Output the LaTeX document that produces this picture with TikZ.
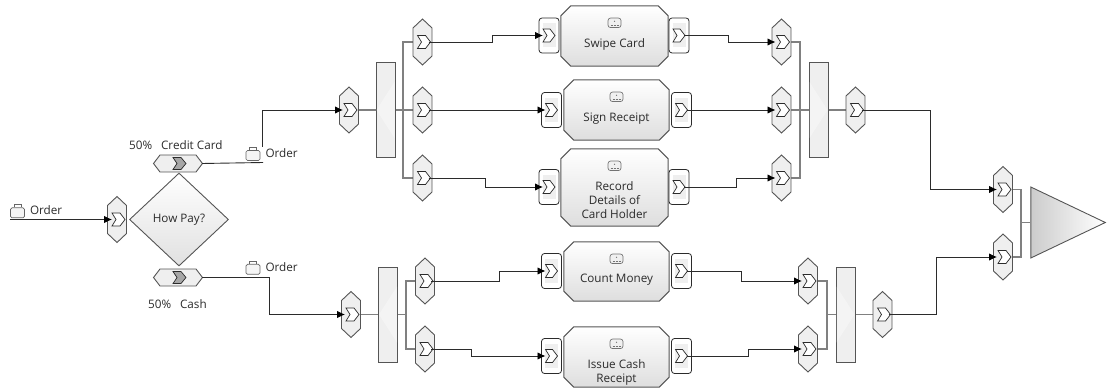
\documentclass[tikz,border=0pt]{standalone}
\usepackage{fontspec}
\setmainfont{Open Sans}
\usetikzlibrary{shapes.geometric,arrows.meta}
\definecolor{ink}{HTML}{2B2B2B}
\definecolor{edge}{HTML}{555555}
\definecolor{pane}{HTML}{EFEFEF}
\tikzstyle{lbl} = [inner sep=0pt, text=ink, font=\fontsize{11.7}{14}\selectfont, align=center]
\tikzstyle{flow} = [draw=ink, line width=0.9pt, -{Latex[black,length=8pt,width=7.5pt]}]
\tikzstyle{plain} = [draw=ink, line width=0.9pt]
\tikzstyle{link} = [draw=black!50, line width=1.6pt]
\tikzstyle{hexline} = [draw=edge, line width=0.9pt, fill=pane]
\tikzstyle{chevron} = [draw=ink, line width=0.7pt, fill=white]
\tikzstyle{anchorbox} = [inner sep=0pt, minimum width=19pt, minimum height=46pt]
\tikzstyle{choice} = [diamond, draw=edge, line width=0.9pt, top color=white, bottom color=black!12, inner sep=0pt, minimum width=99pt, minimum height=93pt, aspect=1.06]
\tikzstyle{taskbase} = [rectangle, inner sep=0pt]
\tikzstyle{taskline} = [draw=edge, line width=1pt, top color=white, bottom color=black!13]
\tikzstyle{gate} = [rectangle, draw=edge, line width=1pt, fill=pane, inner sep=0pt, minimum width=19pt, minimum height=95pt]
\tikzstyle{portbox} = [rectangle, rounded corners=3pt, draw=ink, line width=0.8pt, fill=white, inner sep=0pt, minimum width=20pt, minimum height=35pt]
\tikzstyle{sink} = [isosceles triangle, isosceles triangle stretches, draw=edge, line width=0.9pt, left color=black!20, right color=white, inner sep=0pt, minimum width=71pt, minimum height=74.5pt, anchor=apex]

% upright hexagon with chevron
\newcommand{\vport}[3]{
    \node [anchorbox] (#1) at (#2,#3) {};
    \begin{scope}[shift={(#2,#3)}]
        \path [hexline] (-9.5,-14) -- (0,-23) -- (9.5,-14) -- (9.5,14) -- (0,23) -- (-9.5,14) -- cycle;
        \path [chevron] (-5,-6.5) -- (3,-6.5) -- (8,0) -- (3,6.5) -- (-5,6.5) -- (-1,0) -- cycle;
    \end{scope}
}
% lying hexagon with grey chevron
\newcommand{\hport}[3]{
    \node [anchorbox, minimum width=49pt, minimum height=17pt] (#1) at (#2,#3) {};
    \begin{scope}[shift={(#2,#3)}]
        \path [hexline] (-24.5,0) -- (-18,-8.5) -- (18,-8.5) -- (24.5,0) -- (18,8.5) -- (-18,8.5) -- cycle;
        \path [chevron, fill=black!35] (-5,-6) -- (3,-6) -- (8,0) -- (3,6) -- (-5,6) -- (-1,0) -- cycle;
    \end{scope}
}
% rounded port beside a task
\newcommand{\tport}[3]{
    \node [portbox] (#1) at (#2,#3) {};
    \begin{scope}[shift={(#2,#3)}]
        \fill [pane] (-6.5,-12) rectangle (6.5,12);
        \path [chevron] (-6,-6.5) -- (1,-6.5) -- (6,0) -- (1,6.5) -- (-6,6.5) -- (-2,0) -- cycle;
    \end{scope}
}
% task box, small icon and text
\newcommand{\task}[6]{
    \node [taskbase, minimum width=#4pt, minimum height=#5pt] (#1) at (#2,#3) {};
    \path [taskline] ([xshift=10pt]#1.north west) -- ([xshift=-10pt]#1.north east) -- ([yshift=-10pt]#1.north east)
        -- ([yshift=10pt]#1.south east) -- ([xshift=-10pt]#1.south east) -- ([xshift=10pt]#1.south west)
        -- ([yshift=10pt]#1.south west) -- ([yshift=-10pt]#1.north west) -- cycle;
    \node [rectangle, rounded corners=2.5pt, draw=black!55, line width=0.7pt, fill=black!6, inner sep=0pt, minimum width=13pt, minimum height=9.5pt] (#1icon) at ([yshift=-17pt]#1.north) {};
    \fill [black!55] ([yshift=1.5pt]#1icon.center) circle (0.7pt);
    \draw [black!55, densely dotted, line width=0.5pt] ([xshift=-4pt,yshift=-2pt]#1icon.center) -- ([xshift=4pt,yshift=-2pt]#1icon.center);
    \node [lbl, anchor=north] (#1text) at ([yshift=-32.5pt]#1.north) {#6};
}
% bar, with its pale wedge pointing along direction #4 (+1 right, -1 left)
\newcommand{\gatebar}[4]{
    \node [gate] (#1) at (#2,#3) {};
    \fill [white, opacity=0.35, shift={(#2,#3)}] (-#4*9,-28) -- (#4*9,0) -- (-#4*9,28) -- cycle;
}
% case icon and the word Order
\newcommand{\order}[3]{
    \node [rectangle, rounded corners=1.5pt, draw=black!60, line width=0.7pt, fill=black!4, inner sep=0pt, minimum width=14pt, minimum height=10pt] (#1bag) at (#2,#3) {};
    \draw [black!60, line width=0.7pt] ([xshift=-3.5pt]#1bag.north) -- ++(0,3pt) -- ++(7pt,0) -- ++(0,-3pt);
    \node [lbl, anchor=west] (#1text) at ([xshift=5pt,yshift=2.2pt]#1bag.east) {Order};
}

\begin{document}
\begin{tikzpicture}[x=1pt, y=-1pt]
    \useasboundingbox (0,0) rectangle (1107,390);
    % Place bars and anchors
    \gatebar{splitcard}{385.5}{110}{-1}
    \gatebar{mergecard}{818.5}{110}{1}
    \gatebar{splitcash}{388}{314.5}{-1}
    \gatebar{mergecash}{845.5}{314.5}{1}
    \coordinate (topfork) at (403,110);
    \coordinate (botfork) at (406,314.5);
    \coordinate (topjoin) at (800,110);
    \coordinate (botjoin) at (827,314.5);
    \coordinate (endjoin) at (1021,222.5);
    \node [sink] (finish) at (1106.5,222.5) {};
    \foreach \name/\x/\y in {paycard/349/110, paycash/351/314.5, joincard/855.5/110, joincash/882.5/314.5,
        swipein/422.5/42, signin/422.5/110, recordin/422.5/178, countin/425/281, issuein/425/349,
        swipeout/781.5/42, signout/781.5/110, recordout/781.5/178, countout/808/281, issueout/808/349,
        endcard/1003/189.5, endcash/1003/257}
        \node [anchorbox] (\name) at (\x,\y) {};
    % Grey links
    \path [link] (paycard.center) -- (splitcard.west);
    \path [link] (splitcard.east) -- (signin.center);
    \path [link] (swipein.center) -| (topfork) |- (recordin.center);
    \path [link] (signout.center) -- (mergecard.west);
    \path [link] (swipeout.center) -| (topjoin) |- (recordout.center);
    \path [link] (mergecard.east) -- (joincard.center);
    \path [link] (paycash.center) -- (splitcash.west);
    \path [link] (splitcash.east) -- (botfork);
    \path [link] (countin.center) -| (botfork) |- (issuein.center);
    \path [link] (botjoin) -- (mergecash.west);
    \path [link] (countout.center) -| (botjoin) |- (issueout.center);
    \path [link] (mergecash.east) -- (joincash.center);
    \path [link] (endcard.center) -| (endjoin) |- (endcash.center);
    \path [link] (endjoin) -- (finish.west |- endjoin);
    % Place nodes
    \foreach \name/\x/\y in {inport/117/219.5, paycard/349/110, paycash/351/314.5, joincard/855.5/110, joincash/882.5/314.5,
        swipein/422.5/42, signin/422.5/110, recordin/422.5/178, countin/425/281, issuein/425/349,
        swipeout/781.5/42, signout/781.5/110, recordout/781.5/178, countout/808/281, issueout/808/349,
        endcard/1003/189.5, endcash/1003/257}
        \vport{\name}{\x}{\y};
    \hport{cardport}{178}{163.5}
    \hport{cashport}{178}{277.5}
    \node [choice, lbl, text=ink] (howpay) at (179,219.5) {How Pay?};
    \task{swipe}{614.5}{36}{107}{60}{Swipe Card}
    \task{sign}{616.5}{110}{105}{60}{Sign Receipt}
    \task{record}{614.5}{187.5}{107}{77}{Record\\Details of\\Card Holder}
    \task{count}{616.5}{271.5}{105}{59}{Count Money}
    \task{issue}{616.5}{357}{105}{60}{Issue Cash\\Receipt}
    \foreach \name/\x/\y in {swipeL/549/35.5, swipeR/679/35.5, signL/551.5/110, signR/681.5/110,
        recordL/549/187, recordR/679/187, countL/551.5/271, countR/681.5/271, issueL/551.5/356, issueR/681.5/356}
        \tport{\name}{\x}{\y};
    \order{inorder}{17.5}{212.8}
    \order{cardorder}{253}{155.5}
    \order{cashorder}{253}{269.3}
    \node [lbl, anchor=west] (cardpct) at (129,145) {50\%\hspace{0.5em} Credit Card};
    \node [lbl, anchor=west] (cashpct) at (148,304) {50\%\hspace{0.5em} Cash};
    % Draw edges
    \coordinate (start) at (10,219.5);
    \path [flow] (start) -- ([xshift=-5pt]inport.center);
    \coordinate (cardstub) at (263,162.5);
    \coordinate (cardbend) at (262,147);
    \coordinate (cashbend) at (269,277.5);
    \path [plain] ([xshift=24pt]cardport.center) -- (cardstub);
    \path [flow] (cardbend) |- ([xshift=-6pt]paycard.center);
    \path [flow] ([xshift=24pt]cashport.center) -| (cashbend) |- ([xshift=-6pt]paycash.center);
    \path [flow] ([xshift=6pt]swipein.center) -- ++(64,0) |- ([xshift=-6pt]swipeL.center);
    \path [flow] ([xshift=6pt]signin.center) -- ([xshift=-6pt]signL.center);
    \path [flow] ([xshift=6pt]recordin.center) -- ++(57,0) |- ([xshift=-6pt]recordL.center);
    \path [flow] ([xshift=6pt]countin.center) -- ++(68,0) |- ([xshift=-6pt]countL.center);
    \path [flow] ([xshift=6pt]issuein.center) -- ++(40,0) |- ([xshift=-6pt]issueL.center);
    \path [flow] ([xshift=5pt]swipeR.center) -- ++(44,0) |- ([xshift=-6pt]swipeout.center);
    \path [flow] ([xshift=5pt]signR.center) -- ([xshift=-6pt]signout.center);
    \path [flow] ([xshift=5pt]recordR.center) -- ++(52,0) |- ([xshift=-6pt]recordout.center);
    \path [flow] ([xshift=5pt]countR.center) -- ++(55,0) |- ([xshift=-6pt]countout.center);
    \path [flow] ([xshift=5pt]issueR.center) -- ++(62,0) |- ([xshift=-6pt]issueout.center);
    \path [flow] ([xshift=6pt]joincard.center) -- ++(69,0) |- ([xshift=-6pt]endcard.center);
    \path [flow] ([xshift=6pt]joincash.center) -- ++(48,0) |- ([xshift=-6pt]endcash.center);
\end{tikzpicture}
\end{document}
